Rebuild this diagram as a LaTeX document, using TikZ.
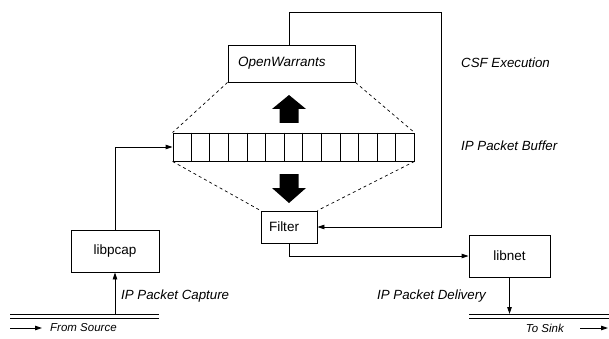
\documentclass[tikz,border=0pt]{standalone}
\usepackage{fontspec}
\setmainfont{Liberation Sans}
\usetikzlibrary{arrows.meta,calc}

\tikzset{
  box/.style={draw, line width=0.9pt, inner sep=0pt, font=\fontsize{13.5}{16}\selectfont},
  conn/.style={draw, line width=0.9pt, -{Triangle[length=7pt,width=4.5pt]}},
  plain/.style={draw, line width=0.9pt},
  guide/.style={draw, line width=0.7pt, dash pattern=on 3pt off 3pt},
  lbl/.style={anchor=west, inner sep=0pt, font=\itshape\fontsize{13.3}{16}\selectfont},
  small/.style={inner sep=0pt, font=\itshape\fontsize{11.5}{14}\selectfont},
  blockarrow/.style={fill=black, draw=none}
}

\begin{document}
\begin{tikzpicture}[x=1pt, y=-1pt]
\useasboundingbox (0,0) rectangle (609,339);

% helper coordinates for line positions
\coordinate (loopx) at (289,0);
\coordinate (railL) at (0,314);

% boxes
\node[box, minimum width=127pt, minimum height=37pt, text width=107pt, align=left, font=\itshape\fontsize{13.5}{16}\selectfont] (ow) at (291.5,63.5) {OpenWarrants};
\node[box, minimum width=241pt, minimum height=28pt] (buf) at (293.5,147) {};
\node[box, minimum width=56pt, minimum height=32pt, text width=40pt, align=left] (filter) at (289,227) {Filter};
\node[box, minimum width=88pt, minimum height=42pt] (pcap) at (115,251) {libpcap};
\node[box, minimum width=81pt, minimum height=42pt] (libnet) at (509.5,256) {libnet};

% buffer cells
\foreach \i in {1,...,12}
  \draw[line width=0.8pt] ($(buf.north west)!\i/13!(buf.north east)$) -- ($(buf.south west)!\i/13!(buf.south east)$);

% dashed guides between the buffer and its neighbours
\draw[guide] (ow.south west) -- (buf.north west);
\draw[guide] (ow.south east) -- (buf.north east);
\draw[guide] (buf.south west) -- (filter.north west);
\draw[guide] (buf.south east) -- (filter.north east);

% block arrows
\fill[blockarrow] (279.5,123) -- (279.5,109) -- (272,109) -- (289,95) -- (306,109) -- (298.5,109) -- (298.5,123) -- cycle;
\fill[blockarrow] (279.5,174) -- (279.5,188) -- (272,188) -- (289,203) -- (306,188) -- (298.5,188) -- (298.5,174) -- cycle;

% CSF execution loop
\draw[conn] (ow.north -| loopx) -- (289,12) -- (441,12) -- (441,227) -- (filter.east);

% capture path
\draw[conn] (pcap.north) |- (buf.west);
\draw[conn] (pcap.south |- railL) -- (pcap.south);

% delivery path
\draw[conn] (filter.south) |- (libnet.west);
\draw[conn] (libnet.south) -- (libnet.south |- railL);

% network rails
\draw[plain] (10,314) -- (159,314);
\draw[plain] (10,318.5) -- (159,318.5);
\draw[plain] (469,314) -- (609,314);
\draw[plain] (469,318.5) -- (609,318.5);

% direction markers
\coordinate (srcA) at (10,328);
\coordinate (srcB) at (42,328);
\coordinate (snkA) at (580,328);
\coordinate (snkB) at (608,328);
\draw[conn] (srcA) -- (srcB);
\draw[conn] (snkA) -- (snkB);
\node[small, anchor=west] (src) at (50,328) {From Source};
\node[small, anchor=east] (snk) at (564,328) {To Sink};

% labels
\node[lbl] (csf) at (461,63) {CSF Execution};
\node[lbl] (ipb) at (461,146) {IP Packet Buffer};
\node[lbl] (ipc) at (121,296) {IP Packet Capture};
\node[lbl] (ipd) at (377,296) {IP Packet Delivery};
\end{tikzpicture}
\end{document}
